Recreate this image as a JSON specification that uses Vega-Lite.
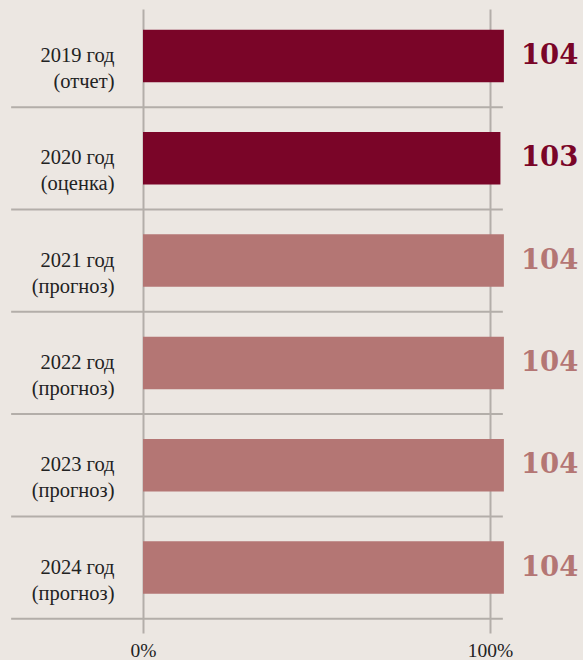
{
  "$schema": "https://vega.github.io/schema/vega-lite/v6.json",
  "width": 440,
  "height": 624,
  "autosize": {"type": "none"},
  "padding": {"left": 143, "top": 9, "right": 0, "bottom": 27},
  "background": "#ece7e2",
  "config": {"view": {"stroke": null}},
  "data": {
    "values": [
      {"period": "2019 год|(отчет)", "kind": "факт", "value": 104},
      {"period": "2020 год|(оценка)", "kind": "факт", "value": 103},
      {"period": "2021 год|(прогноз)", "kind": "прогноз", "value": 104},
      {"period": "2022 год|(прогноз)", "kind": "прогноз", "value": 104},
      {"period": "2023 год|(прогноз)", "kind": "прогноз", "value": 104},
      {"period": "2024 год|(прогноз)", "kind": "прогноз", "value": 104}
    ]
  },
  "layer": [
    {
      "mark": {"type": "rule", "yOffset": 51.15, "color": "#b3aea9", "strokeWidth": 2},
      "encoding": {
        "y": {"field": "period", "type": "nominal", "sort": null},
        "x": {"datum": -38, "type": "quantitative"},
        "x2": {"datum": 103.7}
      }
    },
    {
      "mark": {"type": "bar"},
      "encoding": {
        "y": {
          "field": "period",
          "type": "nominal",
          "sort": null,
          "scale": {"paddingInner": 0.487, "paddingOuter": 0.293, "align": 0.346},
          "axis": {
            "title": null,
            "domain": false,
            "ticks": false,
            "labelPadding": 29,
            "labelExpr": "split(datum.label, '|')",
            "labelFont": "Liberation Serif",
            "labelFontSize": 20.5,
            "labelLineHeight": 26,
            "labelColor": "#222222",
            "labelAlign": "right",
            "labelBaseline": "middle",
            "labelLimit": 200
          }
        },
        "x": {
          "field": "value",
          "type": "quantitative",
          "scale": {"domain": [0, 126.8], "nice": false, "zero": true},
          "axis": {
            "title": null,
            "values": [0, 100],
            "labelExpr": "datum.value + '%'",
            "grid": true,
            "gridColor": "#b3aea9",
            "gridWidth": 2,
            "domain": false,
            "ticks": false,
            "labelPadding": 8,
            "labelFont": "Liberation Serif",
            "labelFontSize": 19.5,
            "labelColor": "#222222",
            "labelFlush": false
          }
        },
        "color": {
          "field": "kind",
          "type": "nominal",
          "scale": {"domain": ["факт", "прогноз"], "range": ["#7a0528", "#b47674"]},
          "legend": null
        }
      }
    },
    {
      "mark": {"type": "text", "align": "left", "baseline": "middle", "dx": 17, "font": "DejaVu Serif", "fontWeight": "bold", "fontSize": 27.5},
      "encoding": {
        "y": {"field": "period", "type": "nominal", "sort": null},
        "x": {"datum": 104, "type": "quantitative"},
        "text": {"field": "value", "type": "quantitative"},
        "color": {"field": "kind", "type": "nominal", "legend": null}
      }
    }
  ]
}
